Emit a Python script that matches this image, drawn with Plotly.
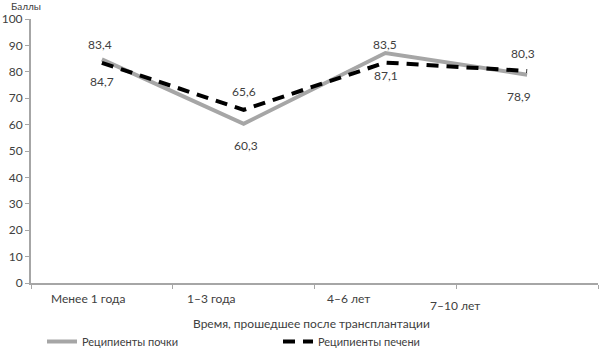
import plotly.graph_objects as go

categories = ["Менее 1 года", "1–3 года", "4–6 лет", "7–10 лет"]
kidney = [84.7, 60.3, 87.1, 78.9]
liver = [83.4, 65.6, 83.5, 80.3]
series_names = ["Реципиенты почки", "Реципиенты печени"]
y_ticks = list(range(0, 101, 10))

FONT = "Lato, Open Sans, sans-serif"
TXT = "#404040"
L, R, T, B = 25, 2, 19, 68
W, H = 600, 351
PW, PH = W - L - R, H - T - B

def px_x(px):
    return (px - L) / PW

def px_y(py):
    return (H - B - py) / PH

fig = go.Figure()
fig.add_trace(go.Scatter(x=categories, y=kidney, mode="lines", name=series_names[0],
                         line=dict(color="#a6a6a6", width=4)))
fig.add_trace(go.Scatter(x=categories, y=liver, mode="lines", name=series_names[1],
                         line=dict(color="#000000", width=4, dash="12px,8px")))

def fmt(v):
    return f"{v:.1f}".replace(".", ",")

ann = []
lx = [-2, 0, 0, -4]
kx = [0, 2, 1, -8]
for i, c in enumerate(categories):
    ann.append(dict(x=c, y=liver[i], text=fmt(liver[i]), showarrow=False, yshift=18, xshift=lx[i],
                    font=dict(size=12, color=TXT, family=FONT)))
    ann.append(dict(x=c, y=kidney[i], text=fmt(kidney[i]), showarrow=False, yshift=-22, xshift=kx[i],
                    font=dict(size=12, color=TXT, family=FONT)))

label_pos = [-0.10, 0.77, 1.74, 2.49]
label_y = [298, 298, 298, 305]
for i, c in enumerate(categories):
    ann.append(dict(x=label_pos[i], xref="x", y=px_y(label_y[i]), yref="paper",
                    text=c, showarrow=False, yanchor="middle",
                    font=dict(size=12, color=TXT, family=FONT)))

ann.append(dict(x=px_x(3), xref="paper", y=px_y(6), yref="paper", xanchor="left",
                yanchor="middle", text="Баллы", showarrow=False,
                font=dict(size=10, color=TXT, family=FONT)))
ann.append(dict(x=px_x(308), xref="paper", y=px_y(323), yref="paper",
                yanchor="middle", text="Время, прошедшее после трансплантации", showarrow=False,
                font=dict(size=12, color=TXT, family=FONT)))

fig.update_layout(
    width=W, height=H,
    margin=dict(l=L, r=R, t=T, b=B),
    paper_bgcolor="white", plot_bgcolor="white",
    font=dict(family=FONT, size=12, color=TXT),
    showlegend=True,
    annotations=ann,
    legend=dict(orientation="h", xref="container", yref="container",
                x=42 / W, y=1 - 327 / H, xanchor="left", yanchor="top",
                entrywidth=191, entrywidthmode="pixels",
                font=dict(size=11, color=TXT, family=FONT),
                bgcolor="rgba(0,0,0,0)"),
    xaxis=dict(type="category", showgrid=False, showline=True, linecolor="#a6a6a6", linewidth=2,
               ticks="outside", tickson="boundaries", ticklen=4, tickcolor="#a6a6a6",
               showticklabels=False, range=[-0.5, 3.5], zeroline=False),
    yaxis=dict(range=[0, 100], tickvals=y_ticks, showgrid=False, showline=True,
               linecolor="#a6a6a6", linewidth=2, ticks="outside", ticklen=4,
               tickcolor="#a6a6a6", zeroline=False,
               tickfont=dict(size=12, color=TXT, family=FONT)),
)

fig.write_html("out.html")
